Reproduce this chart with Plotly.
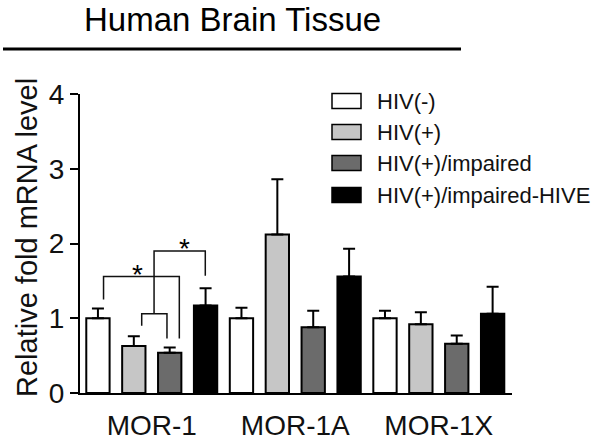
import plotly.graph_objects as go

# data
categories = ["MOR-1", "MOR-1A", "MOR-1X"]
groups = ["HIV(-)", "HIV(+)", "HIV(+)/impaired", "HIV(+)/impaired-HIVE"]
hiv_neg = [1.00, 1.00, 1.00]
hiv_neg_err = [0.13, 0.14, 0.10]
hiv_pos = [0.63, 2.12, 0.92]
hiv_pos_err = [0.13, 0.74, 0.16]
hiv_imp = [0.54, 0.88, 0.66]
hiv_imp_err = [0.07, 0.22, 0.11]
hiv_hive = [1.17, 1.56, 1.06]
hiv_hive_err = [0.23, 0.37, 0.36]
y_ticks = [0, 1, 2, 3, 4]

colors = ["#ffffff", "#c6c6c6", "#6b6b6b", "#000000"]
series = [(hiv_neg, hiv_neg_err), (hiv_pos, hiv_pos_err),
          (hiv_imp, hiv_imp_err), (hiv_hive, hiv_hive_err)]

FONT = "Liberation Sans, Arial, sans-serif"
W, H = 600, 444
L, R, T, B = 80, 88, 94, 51
PW, PH = W - L - R, H - T - B


def px(x):
    return (x - L) / PW


def py(y):
    return (H - B - y) / PH


xpos = list(range(len(categories)))

fig = go.Figure()
for name, (vals, errs), c in zip(groups, series, colors):
    fig.add_trace(go.Bar(
        x=xpos, y=vals, name=name,
        marker=dict(color=c, line=dict(color="#000000", width=2)),
        error_y=dict(type="data", array=errs, arrayminus=[0] * len(errs),
                     symmetric=False, color="#000000", thickness=2, width=6),
        showlegend=False,
    ))

# significance brackets (MOR-1 group)
brackets = [
    # (x0, y0, x1, y1, yh)
    (-0.336, 1.25, 0.192, 0.73, 1.56),
    (-0.070, 0.90, 0.106, 0.73, 1.06),
    (0.016, 1.06, 0.373, 1.57, 1.90),
]
for x0, y0, x1, y1, yh in brackets:
    fig.add_shape(type="path", xref="x", yref="y",
                  path=f"M {x0},{y0} L {x0},{yh} L {x1},{yh} L {x1},{y1}",
                  line=dict(color="#111111", width=1.5))
for sx, sy in [(-0.10, 1.58), (0.227, 1.93)]:
    fig.add_annotation(x=sx, y=sy, xref="x", yref="y", text="*",
                       showarrow=False, font=dict(family=FONT, size=28, color="#000"))

# legend drawn by hand to get the wide swatches
row_y = [101, 132, 163, 195]
for name, c, ry in zip(groups, colors, row_y):
    fig.add_shape(type="rect", xref="paper", yref="paper",
                  x0=px(332), x1=px(361), y0=py(ry + 7.5), y1=py(ry - 7.5),
                  fillcolor=c, line=dict(color="#000000", width=1.5))
    fig.add_annotation(x=px(375), y=py(ry), xref="paper", yref="paper",
                       text=name, showarrow=False, xanchor="left", yanchor="middle",
                       font=dict(family=FONT, size=22, color="#111"))

# title and rule under it
fig.add_annotation(x=px(232), y=py(20), xref="paper", yref="paper",
                   text="Human Brain Tissue", showarrow=False,
                   xanchor="center", yanchor="middle",
                   font=dict(family=FONT, size=33, color="#000"))
fig.add_shape(type="line", xref="paper", yref="paper",
              x0=px(3), x1=px(461), y0=py(49), y1=py(49),
              line=dict(color="#000000", width=3))

# y axis title
fig.add_annotation(x=px(27), y=py(238), xref="paper", yref="paper",
                   text="Relative fold mRNA level", textangle=-90, showarrow=False,
                   xanchor="center", yanchor="middle",
                   font=dict(family=FONT, size=29, color="#111"))

fig.update_layout(
    width=W, height=H,
    margin=dict(l=L, r=R, t=T, b=B, pad=0),
    paper_bgcolor="white", plot_bgcolor="white",
    barmode="group", bargap=0, bargroupgap=0.35,
    font=dict(family=FONT, color="#111"),
)
fig.update_xaxes(
    range=[-0.5, 2.51], tickvals=xpos, ticktext=categories,
    showline=True, linecolor="#000", linewidth=2, ticks="",
    showgrid=False, zeroline=False, tickfont=dict(size=28),
    ticklabelstandoff=6, automargin=False,
)
fig.update_yaxes(
    range=[0, 4], tickvals=y_ticks, showline=True, linecolor="#000", linewidth=2,
    ticks="outside", ticklen=8, tickwidth=2, tickcolor="#000",
    showgrid=False, zeroline=False, tickfont=dict(size=28), automargin=False,
)

# drop the page's default body margin so the figure sits at the corner
fig.write_html("out.html", config={"displayModeBar": False},
               post_script="document.body.style.margin='0';")
